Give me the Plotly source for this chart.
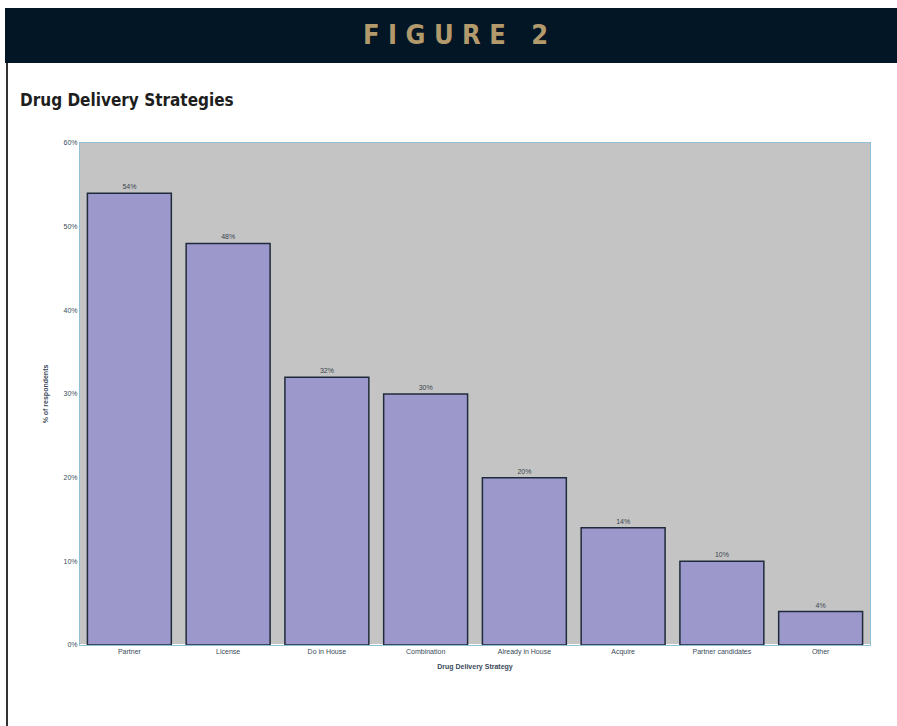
import plotly.graph_objects as go

categories = ["Partner", "License", "Do in House", "Combination", "Already in House",
              "Acquire", "Partner candidates", "Other"]
values = [54, 48, 32, 30, 20, 14, 10, 4]
value_labels = ["54%", "48%", "32%", "30%", "20%", "14%", "10%", "4%"]
y_ticks = [0, 10, 20, 30, 40, 50, 60]
y_tick_labels = ["0%", "10%", "20%", "30%", "40%", "50%", "60%"]

W, H = 897, 726
L, R, T, B = 80, 870, 143, 645

fig = go.Figure()
fig.add_trace(go.Bar(
    x=categories, y=values, text=value_labels, textposition="outside",
    textfont=dict(size=7, color="#3a4450", family="Liberation Sans"),
    marker=dict(color="#9c98cc", line=dict(color="#1f2b3a", width=1.5)),
    width=0.85, cliponaxis=False,
))

def px_x(p):
    return (p - L) / (R - L)

def px_y(p):
    return (B - p) / (B - T)

fig.update_layout(
    width=W, height=H,
    margin=dict(l=L, r=W - R, t=T, b=H - B, pad=0),
    paper_bgcolor="white", plot_bgcolor="#c4c4c4",
    showlegend=False,
    font=dict(family="Liberation Sans", size=7, color="#3a4a5a"),
    xaxis=dict(
        showgrid=False, showline=True, linecolor="#8fc0d6", linewidth=1, mirror=True,
        tickfont=dict(size=7, color="#3a4a5a"), ticks="",
        title=dict(text="<b>Drug Delivery Strategy</b>", font=dict(size=7, color="#3a4a5a"), standoff=8),
    ),
    yaxis=dict(
        range=[0, 60], tickvals=y_ticks, ticktext=y_tick_labels,
        showgrid=False, showline=True, linecolor="#8fc0d6", linewidth=1, mirror=True,
        tickfont=dict(size=7, color="#3a4a5a"), ticks="",
        title=dict(text="<b>% of respondents</b>", font=dict(size=7, color="#3a4a5a"), standoff=14),
    ),
    shapes=[
        dict(type="rect", xref="paper", yref="paper",
             x0=px_x(5), x1=px_x(897), y0=px_y(63), y1=px_y(8),
             fillcolor="#021625", line=dict(width=0), layer="below"),
        dict(type="line", xref="paper", yref="paper",
             x0=px_x(7), x1=px_x(7), y0=px_y(63), y1=px_y(726),
             line=dict(color="#333333", width=2), layer="below"),
    ],
)

fig.add_annotation(
    text="<b>F I G U R E   2</b>", xref="paper", yref="paper",
    x=px_x(455), y=px_y(35), showarrow=False, xanchor="center", yanchor="middle",
    font=dict(family="DejaVu Sans Condensed, Liberation Sans", size=27, color="#b39a6c"),
)
fig.add_annotation(
    text="<b>Drug Delivery Strategies</b>", xref="paper", yref="paper",
    x=px_x(18), y=px_y(100), showarrow=False, xanchor="left", yanchor="middle",
    font=dict(family="DejaVu Sans Condensed, Liberation Sans", size=17, color="#1e1e1e"),
)

fig.write_html("out.html")
